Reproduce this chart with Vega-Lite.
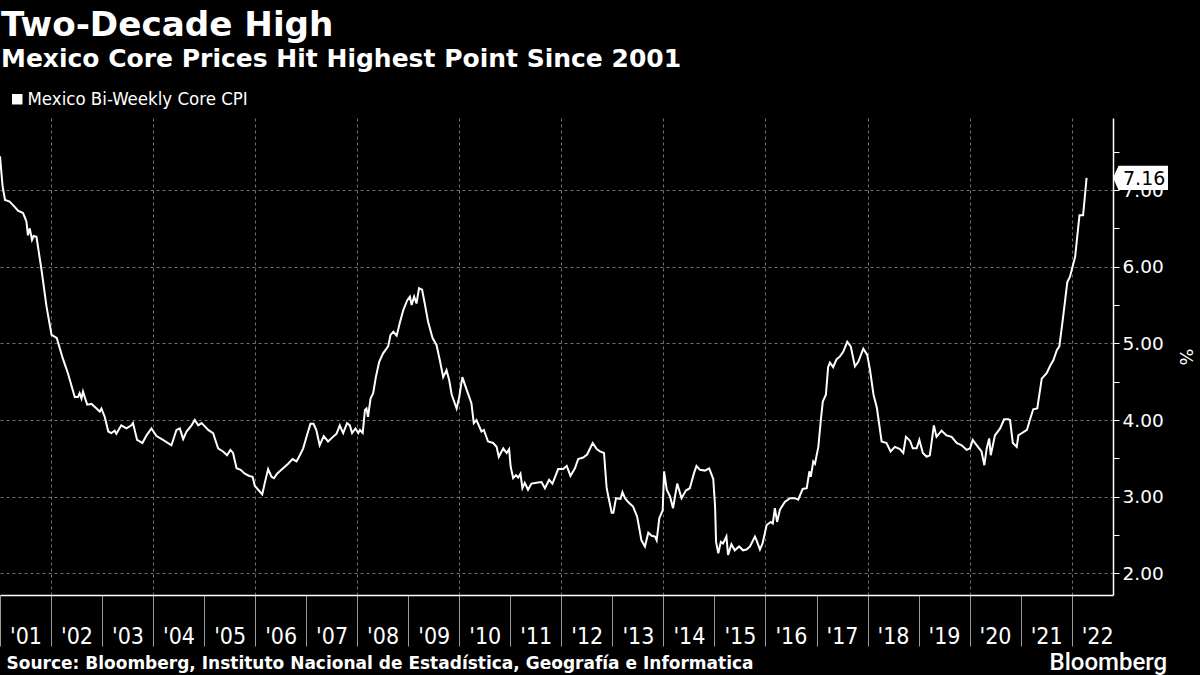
{
  "$schema": "https://vega.github.io/schema/vega-lite/v6.json",
  "width": 1113,
  "height": 477,
  "autosize": {"type": "none"},
  "padding": {"left": 0, "top": 118, "right": 87, "bottom": 80},
  "background": "#000000",
  "config": {"view": {"stroke": null}, "font": "DejaVu Sans"},
  "title": {
    "text": "Two-Decade High",
    "subtitle": "Mexico Core Prices Hit Highest Point Since 2001",
    "anchor": "start",
    "frame": "group",
    "color": "#ffffff",
    "subtitleColor": "#ffffff",
    "font": "DejaVu Sans",
    "subtitleFont": "DejaVu Sans",
    "fontSize": 34.2,
    "subtitleFontSize": 25,
    "fontWeight": "bold",
    "subtitleFontWeight": "bold",
    "subtitlePadding": 4,
    "offset": 18,
    "dx": 1
  },
  "data": {
    "values": [
      {"date": "2001-01-01", "value": 7.44},
      {"date": "2001-01-20", "value": 7.04},
      {"date": "2001-02-06", "value": 6.87},
      {"date": "2001-03-11", "value": 6.85},
      {"date": "2001-04-16", "value": 6.78},
      {"date": "2001-05-10", "value": 6.73},
      {"date": "2001-06-15", "value": 6.70},
      {"date": "2001-07-09", "value": 6.59},
      {"date": "2001-07-20", "value": 6.41},
      {"date": "2001-08-02", "value": 6.50},
      {"date": "2001-08-18", "value": 6.35},
      {"date": "2001-08-30", "value": 6.40},
      {"date": "2001-09-19", "value": 6.39},
      {"date": "2001-10-25", "value": 5.96},
      {"date": "2001-11-30", "value": 5.48},
      {"date": "2002-01-05", "value": 5.11},
      {"date": "2002-02-11", "value": 5.07},
      {"date": "2002-03-27", "value": 4.80},
      {"date": "2002-05-02", "value": 4.61},
      {"date": "2002-06-20", "value": 4.30},
      {"date": "2002-07-13", "value": 4.30},
      {"date": "2002-07-25", "value": 4.35},
      {"date": "2002-08-07", "value": 4.28},
      {"date": "2002-08-18", "value": 4.37},
      {"date": "2002-09-17", "value": 4.20},
      {"date": "2002-10-18", "value": 4.21},
      {"date": "2002-11-23", "value": 4.15},
      {"date": "2002-12-16", "value": 4.11},
      {"date": "2002-12-28", "value": 4.15},
      {"date": "2003-01-21", "value": 4.04},
      {"date": "2003-02-15", "value": 3.85},
      {"date": "2003-03-09", "value": 3.83},
      {"date": "2003-04-02", "value": 3.86},
      {"date": "2003-04-14", "value": 3.82},
      {"date": "2003-05-19", "value": 3.93},
      {"date": "2003-06-25", "value": 3.89},
      {"date": "2003-07-30", "value": 3.93},
      {"date": "2003-08-11", "value": 3.96},
      {"date": "2003-09-09", "value": 3.74},
      {"date": "2003-09-28", "value": 3.72},
      {"date": "2003-10-17", "value": 3.70},
      {"date": "2003-11-16", "value": 3.80},
      {"date": "2003-12-21", "value": 3.89},
      {"date": "2004-01-26", "value": 3.79},
      {"date": "2004-03-13", "value": 3.74},
      {"date": "2004-05-12", "value": 3.67},
      {"date": "2004-06-17", "value": 3.87},
      {"date": "2004-07-11", "value": 3.89},
      {"date": "2004-08-04", "value": 3.75},
      {"date": "2004-08-28", "value": 3.85},
      {"date": "2004-10-03", "value": 3.93},
      {"date": "2004-10-26", "value": 4.00},
      {"date": "2004-11-20", "value": 3.93},
      {"date": "2004-12-14", "value": 3.96},
      {"date": "2004-12-30", "value": 3.93},
      {"date": "2005-01-30", "value": 3.87},
      {"date": "2005-03-06", "value": 3.83},
      {"date": "2005-04-11", "value": 3.63},
      {"date": "2005-05-16", "value": 3.59},
      {"date": "2005-06-14", "value": 3.54},
      {"date": "2005-07-08", "value": 3.61},
      {"date": "2005-07-27", "value": 3.57},
      {"date": "2005-08-21", "value": 3.37},
      {"date": "2005-09-19", "value": 3.35},
      {"date": "2005-10-19", "value": 3.30},
      {"date": "2005-11-20", "value": 3.27},
      {"date": "2005-12-14", "value": 3.26},
      {"date": "2005-12-30", "value": 3.14},
      {"date": "2006-01-23", "value": 3.09},
      {"date": "2006-02-21", "value": 3.03},
      {"date": "2006-03-10", "value": 3.17},
      {"date": "2006-04-04", "value": 3.36},
      {"date": "2006-04-28", "value": 3.26},
      {"date": "2006-05-16", "value": 3.24},
      {"date": "2006-06-07", "value": 3.30},
      {"date": "2006-06-26", "value": 3.33},
      {"date": "2006-07-20", "value": 3.37},
      {"date": "2006-08-25", "value": 3.43},
      {"date": "2006-09-26", "value": 3.49},
      {"date": "2006-10-24", "value": 3.46},
      {"date": "2006-11-17", "value": 3.54},
      {"date": "2006-12-11", "value": 3.63},
      {"date": "2007-01-07", "value": 3.80},
      {"date": "2007-02-01", "value": 3.95},
      {"date": "2007-02-23", "value": 3.95},
      {"date": "2007-03-15", "value": 3.87},
      {"date": "2007-04-08", "value": 3.67},
      {"date": "2007-05-07", "value": 3.79},
      {"date": "2007-06-07", "value": 3.72},
      {"date": "2007-07-12", "value": 3.78},
      {"date": "2007-08-06", "value": 3.82},
      {"date": "2007-08-30", "value": 3.93},
      {"date": "2007-09-23", "value": 3.83},
      {"date": "2007-10-21", "value": 3.96},
      {"date": "2007-11-10", "value": 3.93},
      {"date": "2007-11-26", "value": 3.83},
      {"date": "2007-12-20", "value": 3.89},
      {"date": "2008-01-09", "value": 3.83},
      {"date": "2008-01-21", "value": 3.87},
      {"date": "2008-02-10", "value": 3.83},
      {"date": "2008-02-26", "value": 4.13},
      {"date": "2008-03-08", "value": 4.15},
      {"date": "2008-03-19", "value": 4.04},
      {"date": "2008-04-06", "value": 4.28},
      {"date": "2008-04-25", "value": 4.35},
      {"date": "2008-05-14", "value": 4.56},
      {"date": "2008-06-07", "value": 4.76},
      {"date": "2008-07-05", "value": 4.87},
      {"date": "2008-08-10", "value": 4.96},
      {"date": "2008-08-27", "value": 5.11},
      {"date": "2008-09-16", "value": 5.15},
      {"date": "2008-10-10", "value": 5.10},
      {"date": "2008-11-03", "value": 5.28},
      {"date": "2008-11-26", "value": 5.43},
      {"date": "2008-12-24", "value": 5.56},
      {"date": "2009-01-13", "value": 5.61},
      {"date": "2009-01-25", "value": 5.50},
      {"date": "2009-02-12", "value": 5.61},
      {"date": "2009-03-01", "value": 5.52},
      {"date": "2009-03-19", "value": 5.72},
      {"date": "2009-04-10", "value": 5.70},
      {"date": "2009-04-29", "value": 5.52},
      {"date": "2009-05-23", "value": 5.28},
      {"date": "2009-06-24", "value": 5.07},
      {"date": "2009-07-22", "value": 4.98},
      {"date": "2009-08-15", "value": 4.78},
      {"date": "2009-09-08", "value": 4.56},
      {"date": "2009-10-02", "value": 4.65},
      {"date": "2009-10-21", "value": 4.52},
      {"date": "2009-11-08", "value": 4.33},
      {"date": "2009-12-13", "value": 4.15},
      {"date": "2010-01-01", "value": 4.30},
      {"date": "2010-01-23", "value": 4.56},
      {"date": "2010-02-24", "value": 4.39},
      {"date": "2010-03-29", "value": 4.22},
      {"date": "2010-04-15", "value": 3.96},
      {"date": "2010-05-04", "value": 4.00},
      {"date": "2010-06-09", "value": 3.85},
      {"date": "2010-06-26", "value": 3.87},
      {"date": "2010-07-26", "value": 3.72},
      {"date": "2010-09-01", "value": 3.70},
      {"date": "2010-09-25", "value": 3.65},
      {"date": "2010-10-11", "value": 3.52},
      {"date": "2010-11-12", "value": 3.63},
      {"date": "2010-12-06", "value": 3.57},
      {"date": "2010-12-24", "value": 3.62},
      {"date": "2011-01-04", "value": 3.39},
      {"date": "2011-01-22", "value": 3.24},
      {"date": "2011-02-11", "value": 3.28},
      {"date": "2011-02-27", "value": 3.25},
      {"date": "2011-03-15", "value": 3.30},
      {"date": "2011-03-29", "value": 3.11},
      {"date": "2011-04-15", "value": 3.18},
      {"date": "2011-05-08", "value": 3.09},
      {"date": "2011-06-02", "value": 3.17},
      {"date": "2011-07-07", "value": 3.18},
      {"date": "2011-08-13", "value": 3.19},
      {"date": "2011-09-06", "value": 3.11},
      {"date": "2011-10-06", "value": 3.22},
      {"date": "2011-10-30", "value": 3.17},
      {"date": "2011-12-10", "value": 3.36},
      {"date": "2012-01-15", "value": 3.36},
      {"date": "2012-02-09", "value": 3.40},
      {"date": "2012-03-07", "value": 3.27},
      {"date": "2012-04-08", "value": 3.37},
      {"date": "2012-05-01", "value": 3.49},
      {"date": "2012-06-06", "value": 3.51},
      {"date": "2012-07-04", "value": 3.55},
      {"date": "2012-08-13", "value": 3.70},
      {"date": "2012-09-11", "value": 3.62},
      {"date": "2012-10-04", "value": 3.59},
      {"date": "2012-11-02", "value": 3.57},
      {"date": "2012-11-21", "value": 3.11},
      {"date": "2012-12-27", "value": 2.79},
      {"date": "2013-01-08", "value": 2.79},
      {"date": "2013-01-27", "value": 2.98},
      {"date": "2013-02-28", "value": 2.97},
      {"date": "2013-03-14", "value": 3.06},
      {"date": "2013-04-01", "value": 2.98},
      {"date": "2013-04-24", "value": 2.93},
      {"date": "2013-05-29", "value": 2.87},
      {"date": "2013-06-27", "value": 2.74},
      {"date": "2013-07-28", "value": 2.43},
      {"date": "2013-08-22", "value": 2.35},
      {"date": "2013-09-15", "value": 2.53},
      {"date": "2013-10-09", "value": 2.49},
      {"date": "2013-11-02", "value": 2.48},
      {"date": "2013-11-14", "value": 2.43},
      {"date": "2013-12-03", "value": 2.72},
      {"date": "2013-12-27", "value": 2.82},
      {"date": "2014-01-06", "value": 3.33},
      {"date": "2014-01-25", "value": 3.09},
      {"date": "2014-02-18", "value": 3.00},
      {"date": "2014-03-11", "value": 2.85},
      {"date": "2014-04-10", "value": 3.17},
      {"date": "2014-05-11", "value": 2.98},
      {"date": "2014-06-11", "value": 3.08},
      {"date": "2014-07-09", "value": 3.11},
      {"date": "2014-08-07", "value": 3.30},
      {"date": "2014-08-26", "value": 3.40},
      {"date": "2014-09-20", "value": 3.35},
      {"date": "2014-10-25", "value": 3.34},
      {"date": "2014-11-25", "value": 3.37},
      {"date": "2014-12-24", "value": 3.23},
      {"date": "2015-01-06", "value": 2.87},
      {"date": "2015-01-13", "value": 2.41},
      {"date": "2015-01-29", "value": 2.26},
      {"date": "2015-02-16", "value": 2.41},
      {"date": "2015-03-04", "value": 2.39},
      {"date": "2015-03-28", "value": 2.48},
      {"date": "2015-04-09", "value": 2.24},
      {"date": "2015-05-03", "value": 2.38},
      {"date": "2015-05-27", "value": 2.30},
      {"date": "2015-06-27", "value": 2.35},
      {"date": "2015-07-25", "value": 2.30},
      {"date": "2015-08-19", "value": 2.31},
      {"date": "2015-09-13", "value": 2.35},
      {"date": "2015-10-18", "value": 2.48},
      {"date": "2015-10-30", "value": 2.43},
      {"date": "2015-11-23", "value": 2.31},
      {"date": "2015-12-12", "value": 2.39},
      {"date": "2016-01-10", "value": 2.63},
      {"date": "2016-02-09", "value": 2.67},
      {"date": "2016-02-23", "value": 2.65},
      {"date": "2016-03-09", "value": 2.85},
      {"date": "2016-03-25", "value": 2.67},
      {"date": "2016-04-14", "value": 2.83},
      {"date": "2016-05-19", "value": 2.93},
      {"date": "2016-06-25", "value": 2.98},
      {"date": "2016-07-30", "value": 2.98},
      {"date": "2016-08-23", "value": 2.96},
      {"date": "2016-09-24", "value": 3.10},
      {"date": "2016-10-23", "value": 3.11},
      {"date": "2016-11-11", "value": 3.33},
      {"date": "2016-11-21", "value": 3.26},
      {"date": "2016-12-09", "value": 3.46},
      {"date": "2016-12-21", "value": 3.43},
      {"date": "2017-01-14", "value": 3.65},
      {"date": "2017-02-01", "value": 4.00},
      {"date": "2017-02-15", "value": 4.24},
      {"date": "2017-03-09", "value": 4.33},
      {"date": "2017-03-25", "value": 4.69},
      {"date": "2017-04-07", "value": 4.75},
      {"date": "2017-04-30", "value": 4.69},
      {"date": "2017-05-24", "value": 4.79},
      {"date": "2017-06-18", "value": 4.83},
      {"date": "2017-07-11", "value": 4.89},
      {"date": "2017-08-09", "value": 5.02},
      {"date": "2017-09-03", "value": 4.96},
      {"date": "2017-10-03", "value": 4.70},
      {"date": "2017-10-27", "value": 4.76},
      {"date": "2017-12-02", "value": 4.93},
      {"date": "2017-12-30", "value": 4.85},
      {"date": "2018-01-19", "value": 4.65},
      {"date": "2018-02-13", "value": 4.33},
      {"date": "2018-03-09", "value": 4.16},
      {"date": "2018-04-12", "value": 3.72},
      {"date": "2018-05-17", "value": 3.70},
      {"date": "2018-06-15", "value": 3.59},
      {"date": "2018-07-16", "value": 3.65},
      {"date": "2018-08-21", "value": 3.62},
      {"date": "2018-09-14", "value": 3.57},
      {"date": "2018-10-03", "value": 3.78},
      {"date": "2018-11-01", "value": 3.73},
      {"date": "2018-11-21", "value": 3.63},
      {"date": "2018-12-19", "value": 3.63},
      {"date": "2019-01-07", "value": 3.74},
      {"date": "2019-02-01", "value": 3.57},
      {"date": "2019-02-28", "value": 3.52},
      {"date": "2019-03-23", "value": 3.54},
      {"date": "2019-04-21", "value": 3.93},
      {"date": "2019-05-10", "value": 3.78},
      {"date": "2019-06-15", "value": 3.86},
      {"date": "2019-07-20", "value": 3.80},
      {"date": "2019-08-26", "value": 3.78},
      {"date": "2019-10-01", "value": 3.70},
      {"date": "2019-11-06", "value": 3.67},
      {"date": "2019-12-12", "value": 3.61},
      {"date": "2020-01-05", "value": 3.63},
      {"date": "2020-01-24", "value": 3.74},
      {"date": "2020-02-22", "value": 3.67},
      {"date": "2020-03-27", "value": 3.59},
      {"date": "2020-04-16", "value": 3.41},
      {"date": "2020-05-03", "value": 3.63},
      {"date": "2020-05-21", "value": 3.76},
      {"date": "2020-06-01", "value": 3.54},
      {"date": "2020-07-01", "value": 3.80},
      {"date": "2020-08-07", "value": 3.89},
      {"date": "2020-09-05", "value": 4.01},
      {"date": "2020-10-05", "value": 4.01},
      {"date": "2020-10-17", "value": 4.00},
      {"date": "2020-11-06", "value": 3.70},
      {"date": "2020-12-04", "value": 3.65},
      {"date": "2020-12-16", "value": 3.80},
      {"date": "2021-01-10", "value": 3.83},
      {"date": "2021-02-15", "value": 3.87},
      {"date": "2021-03-08", "value": 4.00},
      {"date": "2021-04-01", "value": 4.14},
      {"date": "2021-04-30", "value": 4.15},
      {"date": "2021-06-01", "value": 4.54},
      {"date": "2021-07-06", "value": 4.61},
      {"date": "2021-08-04", "value": 4.72},
      {"date": "2021-08-23", "value": 4.78},
      {"date": "2021-09-17", "value": 4.91},
      {"date": "2021-10-05", "value": 4.96},
      {"date": "2021-10-29", "value": 5.30},
      {"date": "2021-12-01", "value": 5.80},
      {"date": "2021-12-20", "value": 5.87},
      {"date": "2022-01-26", "value": 6.13},
      {"date": "2022-02-26", "value": 6.67},
      {"date": "2022-03-24", "value": 6.67},
      {"date": "2022-04-18", "value": 7.16}
    ]
  },
  "layer": [
    {
      "mark": {"type": "line", "strokeWidth": 2, "interpolate": "linear"},
      "encoding": {
        "x": {
          "field": "date",
          "type": "temporal",
          "scale": {"domain": [{"year": 2001, "month": 1, "date": 1}, {"year": 2022, "month": 10, "date": 24}]},
          "axis": {
            "format": "'%y",
            "tickCount": {"interval": "year", "step": 1},
            "labelOffset": 25.5,
            "labelFlush": false,
            "labelOverlap": false,
            "labelBound": false,
            "labelColor": "#ffffff",
            "labelFont": "Liberation Sans Narrow, DejaVu Sans Condensed, Roboto, sans-serif",
            "labelFontSize": 23,
            "labelBaseline": "alphabetic",
            "labelPadding": -3,
            "tickSize": 51,
            "tickColor": "#9a9a9a",
            "tickWidth": 1,
            "domainColor": "#ffffff",
            "domainWidth": 1.5,
            "grid": true,
            "gridColor": "#707070",
            "gridDash": [3, 3],
            "gridWidth": 1,
            "gridOpacity": {"condition": {"test": "year(datum.value) % 2 === 0", "value": 1}, "value": 0},
            "title": "Source: Bloomberg, Instituto Nacional de Estadística, Geografía e Informatica",
            "titleColor": "#ffffff",
            "titleFont": "DejaVu Sans",
            "titleFontSize": 17,
            "titleFontWeight": "bold",
            "titleAnchor": "start",
            "titleAlign": "left",
            "titleBaseline": "alphabetic",
            "titleX": 6,
            "titleY": 73
          }
        },
        "y": {
          "field": "value",
          "type": "quantitative",
          "scale": {"domain": [1.717, 7.94], "nice": false, "zero": false},
          "axis": {
            "orient": "right",
            "values": [2, 2.5, 3, 3.5, 4, 4.5, 5, 5.5, 6, 6.5, 7, 7.5],
            "format": ".2f",
            "labelExpr": "datum.value % 1 === 0 ? datum.label : ''",
            "labelColor": "#ffffff",
            "labelFont": "DejaVu Sans",
            "labelFontSize": 18.5,
            "labelPadding": 3,
            "tickSize": 6,
            "tickColor": "#ffffff",
            "domainColor": "#ffffff",
            "domainWidth": 1.5,
            "grid": true,
            "gridColor": "#707070",
            "gridDash": [3, 3],
            "gridWidth": 1,
            "gridOpacity": {"condition": {"test": "datum.value % 1 === 0", "value": 1}, "value": 0},
            "title": "%",
            "titleAngle": 90,
            "titleColor": "#ffffff",
            "titleFont": "DejaVu Sans",
            "titleFontSize": 18,
            "titleFontWeight": "normal",
            "titlePadding": 12
          }
        },
        "color": {
          "datum": "Mexico Bi-Weekly Core CPI",
          "scale": {"range": ["#ffffff"]},
          "legend": {
            "orient": "none",
            "legendX": 8,
            "legendY": -28,
            "title": null,
            "padding": 0,
            "symbolType": "square",
            "symbolSize": 110,
            "symbolFillColor": "#ffffff",
            "symbolStrokeColor": "#ffffff",
            "symbolStrokeWidth": 0,
            "labelColor": "#ffffff",
            "labelFont": "Liberation Sans Narrow, DejaVu Sans Condensed, Roboto, sans-serif",
            "labelFontSize": 18.5,
            "labelLimit": 0,
            "labelOffset": 1
          }
        }
      }
    },
    {
      "transform": [{"filter": "datum.value === 7.16"}],
      "mark": {
        "type": "point",
        "shape": "M0,0L0.2,-0.44L2,-0.44L2,0.44L0.2,0.44Z",
        "filled": true,
        "fill": "#ffffff",
        "opacity": 1,
        "strokeWidth": 0,
        "size": 3025
      },
      "encoding": {
        "x": {"datum": {"year": 2022, "month": 10, "date": 24}, "type": "temporal"},
        "y": {"field": "value", "type": "quantitative", "axis": null}
      }
    },
    {
      "transform": [{"filter": "datum.value === 7.16"}],
      "mark": {
        "type": "text",
        "align": "left",
        "baseline": "middle",
        "dx": 10,
        "dy": 1,
        "font": "DejaVu Sans",
        "fontSize": 19,
        "color": "#000000"
      },
      "encoding": {
        "x": {"datum": {"year": 2022, "month": 10, "date": 24}, "type": "temporal"},
        "y": {
          "field": "value",
          "type": "quantitative",
          "axis": {
            "orient": "left",
            "labels": false,
            "ticks": false,
            "domain": false,
            "grid": false,
            "title": "Bloomberg",
            "titleAngle": 0,
            "titleColor": "#ffffff",
            "titleFont": "Roboto",
            "titleFontSize": 24,
            "titleFontWeight": 500,
            "titleAlign": "left",
            "titleBaseline": "alphabetic",
            "titleAnchor": null,
            "titleX": 1049,
            "titleY": 551
          }
        },
        "text": {"field": "value", "type": "quantitative", "format": ".2f"}
      }
    }
  ],
  "resolve": {"axis": {"y": "independent"}}
}
